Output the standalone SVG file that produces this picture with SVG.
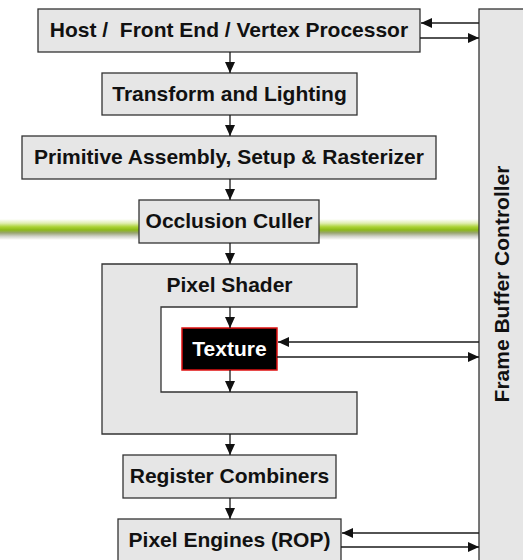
<svg xmlns="http://www.w3.org/2000/svg" width="523" height="560" viewBox="0 0 523 560">
<style>
.box{fill:#e6e6e6;stroke:#333;stroke-width:1.3}
.lbl{font-family:"Liberation Sans",sans-serif;font-weight:700;font-size:21px;fill:#111;text-anchor:middle}
.conn{stroke:#1a1a1a;stroke-width:1.3;fill:none;marker-end:url(#ah)}
</style>
<defs>
<marker id="ah" markerUnits="userSpaceOnUse" markerWidth="11" markerHeight="10" refX="11" refY="5" orient="auto">
<path d="M0,0 L11,5 L0,10 z" fill="#111"/>
</marker>
<linearGradient id="band" x1="0" y1="0" x2="0" y2="1">
<stop offset="0" stop-color="#ffffff"/>
<stop offset="0.2" stop-color="#e0eeb0"/>
<stop offset="0.38" stop-color="#aad232"/>
<stop offset="0.52" stop-color="#8cb918"/>
<stop offset="0.66" stop-color="#98a470"/>
<stop offset="0.82" stop-color="#cfd1c8"/>
<stop offset="1" stop-color="#ffffff"/>
</linearGradient>
</defs>
<rect x="0" y="0" width="523" height="560" fill="#fff"/>
<rect id="band-bg" x="0" y="219" width="523" height="21" fill="url(#band)"/>

<g id="fbc">
<rect class="box" x="479" y="9" width="60" height="570"/>
<text class="lbl" transform="translate(509,284) rotate(-90)">Frame Buffer Controller</text>
</g>

<g id="host">
<rect class="box" x="38" y="9" width="382" height="43"/>
<text class="lbl" x="229" y="37" xml:space="preserve">Host /  Front End / Vertex Processor</text>
</g>
<g id="tl">
<rect class="box" x="102" y="73" width="255" height="42"/>
<text class="lbl" x="229.5" y="101">Transform and Lighting</text>
</g>
<g id="prim">
<rect class="box" x="22" y="136" width="414" height="43"/>
<text class="lbl" x="229" y="164">Primitive Assembly, Setup &amp; Rasterizer</text>
</g>
<g id="occ">
<rect class="box" x="139" y="200" width="180" height="43"/>
<text class="lbl" x="229" y="228">Occlusion Culler</text>
</g>
<g id="ps">
<path class="box" d="M102,264 H357 V307 H161 V392 H357 V434 H102 Z"/>
<text class="lbl" x="229.5" y="292">Pixel Shader</text>
</g>
<g id="tex">
<rect x="182" y="328" width="95" height="42" fill="#000" stroke="#e01010" stroke-width="1.5"/>
<text class="lbl" x="229.5" y="356" style="fill:#fff">Texture</text>
</g>
<g id="rc">
<rect class="box" x="123" y="455" width="213" height="43"/>
<text class="lbl" x="229.5" y="483">Register Combiners</text>
</g>
<g id="pe">
<rect class="box" x="118" y="519" width="223" height="50"/>
<text class="lbl" x="229.5" y="547">Pixel Engines (ROP)</text>
</g>

<g id="connectors">
<line class="conn" x1="230" y1="52" x2="230" y2="73"/>
<line class="conn" x1="230" y1="115" x2="230" y2="136"/>
<line class="conn" x1="230" y1="179" x2="230" y2="200"/>
<line class="conn" x1="230" y1="243" x2="230" y2="264"/>
<line class="conn" x1="230" y1="307" x2="230" y2="328"/>
<line class="conn" x1="230" y1="370" x2="230" y2="392"/>
<line class="conn" x1="230" y1="434" x2="230" y2="455"/>
<line class="conn" x1="230" y1="498" x2="230" y2="519"/>
<line class="conn" x1="479" y1="23" x2="421" y2="23"/>
<line class="conn" x1="420" y1="38" x2="479" y2="38"/>
<line class="conn" x1="479" y1="342" x2="278" y2="342"/>
<line class="conn" x1="277" y1="357" x2="479" y2="357"/>
<line class="conn" x1="479" y1="533" x2="342" y2="533"/>
<line class="conn" x1="341" y1="547" x2="479" y2="547"/>
</g>
</svg>
